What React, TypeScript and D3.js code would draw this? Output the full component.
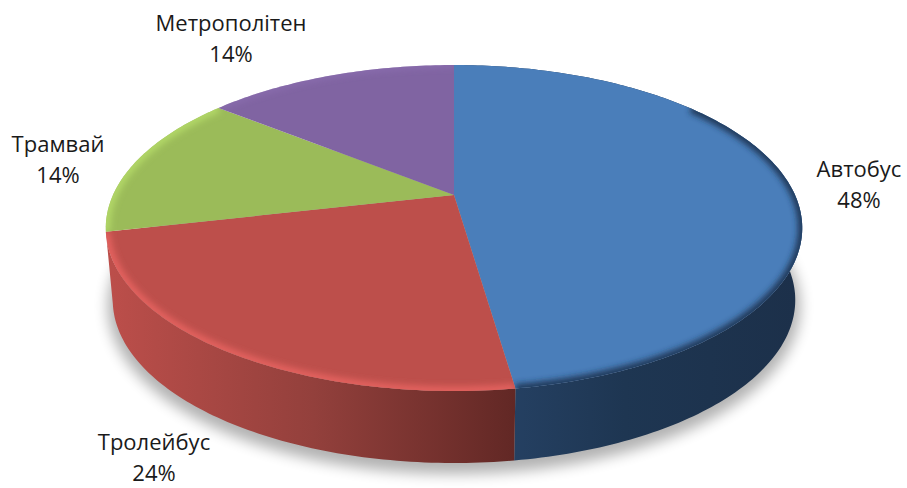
import React from "react";
import * as d3 from "d3";

const categories = ["Автобус", "Тролейбус", "Трамвай", "Метрополітен"];
const shares = [47.7, 23.7, 14.4, 14.2];
const topColors = ["#4a7eba", "#bd4f4b", "#9bbb59", "#8064a2"];
const rimColors = ["#1d3350", "#e4625f", "#b2d867", "#8d70b2"];
const rimWidths = [8, 9, 9, 4];
const rimStart = [0.3, 0, 0, 0];
const sideStops = [
  ["#28456a", "#1e3652", "#1c304a"],
  ["#bb4e4a", "#93403c", "#622825"],
  ["#9bbb59", "#9bbb59", "#9bbb59"],
  ["#8064a2", "#8064a2", "#8064a2"],
];
const labelCenters: [number, number][] = [[859, 176.5], [154, 450], [58, 151.5], [231, 30.5]];

const W = 907, H = 488;
const CX = 454, CY = 195, RX = 341, RY = 156.3, K = -0.2025;
const DEPTH = 72, BOTTOM_X = 0.98;

function project(a: number, bottom = false): [number, number] {
  const x = Math.sin(a), y = -Math.cos(a);
  const w = 1 + K * y;
  const sx = bottom ? BOTTOM_X : 1;
  return [CX + (sx * RX * x) / w, CY + (RY * y) / w + (bottom ? DEPTH : 0)];
}

function arcPts(a0: number, a1: number, bottom = false): [number, number][] {
  const n = Math.max(2, Math.ceil((a1 - a0) * 60));
  return d3.range(n + 1).map((i) => project(a0 + ((a1 - a0) * i) / n, bottom));
}

const line = d3.line<[number, number]>();
const arcs = d3.pie<number>().sort(null)(shares);
const isFront = (a: { startAngle: number; endAngle: number }) =>
  Math.min(Math.cos(a.startAngle), Math.cos(a.endAngle)) < -0.5;

export default function App() {
  const font = '"Open Sans", sans-serif';
  return (
    <svg width={W} height={H} style={{ position: "absolute", left: 0, top: 0, display: "block", background: "#fff" }}>
      <defs>
        <filter id="blurShadow" x="-20%" y="-20%" width="140%" height="140%">
          <feGaussianBlur stdDeviation="7" />
        </filter>
        <filter id="blurRim" x="0" y="0" width={W} height={H} filterUnits="userSpaceOnUse">
          <feGaussianBlur stdDeviation="3.2" />
        </filter>
        {arcs.map((d, i) => {
          const xs = arcPts(d.startAngle, d.endAngle, true).map((p) => p[0]);
          return (
            <React.Fragment key={i}>
              <linearGradient id={`side${i}`} gradientUnits="userSpaceOnUse" x1={d3.min(xs)} x2={d3.max(xs)} y1={0} y2={0}>
                {sideStops[i].map((c, j) => (
                  <stop key={j} offset={j / (sideStops[i].length - 1)} stopColor={c} />
                ))}
              </linearGradient>
              <clipPath id={`clip${i}`}>
                <path d={line([[CX, CY], ...arcPts(d.startAngle, d.endAngle)]) + "Z"} />
              </clipPath>
            </React.Fragment>
          );
        })}
      </defs>

      <path
        d={line(arcPts(0, 2 * Math.PI, true)) + "Z"}
        transform="translate(0,6)"
        fill="#000"
        stroke="#000"
        strokeWidth={10}
        opacity={0.3}
        filter="url(#blurShadow)"
      />

      {arcs.map((d, i) =>
        isFront(d) ? (
          <path
            key={`s${i}`}
            d={line([...arcPts(d.startAngle, d.endAngle), ...arcPts(d.startAngle, d.endAngle, true).reverse()]) + "Z"}
            fill={`url(#side${i})`}
          />
        ) : null
      )}

      {arcs.map((d, i) => (
        <g key={`t${i}`}>
          <path d={line([[CX, CY], ...arcPts(d.startAngle, d.endAngle)]) + "Z"} fill={topColors[i]} />
          <g clipPath={`url(#clip${i})`}>
            <path
              d={line(arcPts(d.startAngle + (d.endAngle - d.startAngle) * rimStart[i], d.endAngle)) ?? ""}
              fill="none"
              stroke={rimColors[i]}
              strokeWidth={rimWidths[i]}
              filter="url(#blurRim)"
            />
          </g>
        </g>
      ))}

      {categories.map((c, i) => (
        <text key={c} textAnchor="middle" fontFamily={font} fontSize={22} fill="#1a1a1a">
          <tspan x={labelCenters[i][0]} y={labelCenters[i][1]}>{c}</tspan>
          <tspan x={labelCenters[i][0]} y={labelCenters[i][1] + 31}>{`${Math.round(shares[i])}%`}</tspan>
        </text>
      ))}
    </svg>
  );
}
